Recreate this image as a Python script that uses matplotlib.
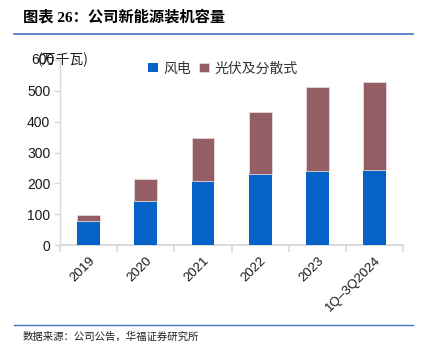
import numpy as np
import matplotlib
matplotlib.use('Agg')
from matplotlib import pyplot as plt

plt.rcParams['font.family'] = ['Noto Sans CJK SC', 'DejaVu Sans']

''' data (万千瓦) '''
years = ['2019', '2020', '2021', '2022', '2023', '1Q–3Q2024']
wind = [77, 143, 209, 231, 240, 243]
solar_total = [98, 214, 347, 431, 514, 530]
solar = [t - w for t, w in zip(solar_total, wind)]
yticks = [0, 100, 200, 300, 400, 500, 600]

c_wind = '#0563c8'
c_solar = '#935f64'
c_axis = '#d9d9d9'
num_font = ['Liberation Sans', 'Noto Sans CJK SC']

fig = plt.figure(figsize=(4.27, 3.57), dpi=100)
ax = fig.add_axes([0.1405, 0.3137, 0.8035, 0.518])

x = np.arange(len(years))
ax.bar(x, wind, width=0.4, color=c_wind, label='风电', zorder=3)
ax.bar(x, solar, width=0.4, bottom=wind, color=c_solar, label='光伏及分散式', zorder=3,
       edgecolor='#e8d8da', linewidth=0.6)

ax.set_xlim(-0.5, len(years) - 0.5)
ax.set_ylim(0, 600)
ax.set_yticks(yticks)
ax.set_yticklabels([str(v) for v in yticks[:-1]] + [''], fontsize=10, color='#1a1a1a',
                   family=num_font)
ax.set_xticks(x)
ax.set_xticklabels(years, rotation=45, ha='right', rotation_mode='anchor', fontsize=9.5,
                   color='#1a1a1a', family=num_font)
ax.set_xticks(np.arange(-0.5, len(years)), minor=True)
ax.tick_params(axis='x', which='major', length=0, pad=7)
ax.tick_params(axis='x', which='minor', length=5, color=c_axis, width=1.2)
ax.tick_params(axis='y', length=4, color=c_axis, width=1, pad=3)

for s in ['top', 'right']:
    ax.spines[s].set_visible(False)
ax.spines['left'].set_color(c_axis)
ax.spines['bottom'].set_color(c_axis)
ax.spines['bottom'].set_linewidth(1.4)
ax.spines['left'].set_linewidth(1.0)
ax.patch.set_alpha(0)

# unit label overlapping the top tick, as in the source
fig.text(0.073, 0.832, '600', fontsize=10, color='#1a1a1a', va='center', ha='left',
         family=num_font)
fig.text(0.088, 0.832, '(万千瓦)', fontsize=10, color='#1a1a1a', va='center', ha='left')

ax.legend(loc='upper left', bbox_to_anchor=(0.22, 1.06), ncol=2, frameon=False,
          fontsize=10, handlelength=0.7, handleheight=0.7, handletextpad=0.4,
          columnspacing=0.6, labelcolor='#333333')

# header and footer
fig.text(0.054, 0.952, '图表 26：公司新能源装机容量', fontsize=11, fontweight='bold',
         va='center', ha='left', color='#000000', family=['Liberation Serif', 'Noto Sans CJK SC'])
fig.add_artist(plt.Line2D([0.033, 0.967], [0.905, 0.905], color='#4472c4', linewidth=1.2))
fig.add_artist(plt.Line2D([0.033, 0.967], [0.09, 0.09], color='#4472c4', linewidth=1.0))
fig.text(0.054, 0.057, '数据来源：公司公告，华福证券研究所', fontsize=7.5,
         va='center', ha='left', color='#222222')

fig.savefig('out.png', dpi=100)
